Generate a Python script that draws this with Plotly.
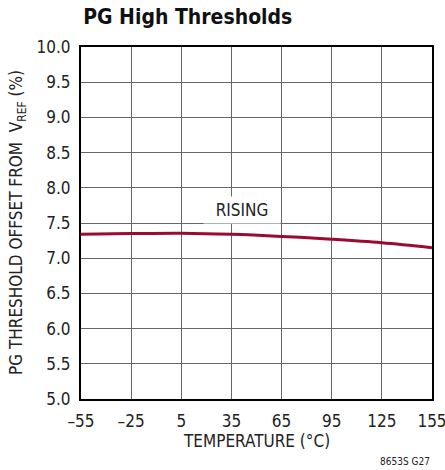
import plotly.graph_objects as go

temps = [-55, -25, 5, 35, 65, 95, 125, 155]
rising = [7.34, 7.35, 7.355, 7.34, 7.31, 7.27, 7.22, 7.15]
x_ticks = [-55, -25, 5, 35, 65, 95, 125, 155]
y_ticks = [5.0, 5.5, 6.0, 6.5, 7.0, 7.5, 8.0, 8.5, 9.0, 9.5, 10.0]

FONT = "DejaVu Sans Condensed, Liberation Sans Narrow, Arial Narrow, sans-serif"

fig = go.Figure()
fig.add_trace(go.Scatter(x=temps, y=rising, mode="lines",
                         line=dict(color="#9a0a32", width=3, shape="spline"),
                         showlegend=False, hoverinfo="skip"))

fig.add_annotation(x=41.4, y=7.685, text="RISING", showarrow=False,
                   font=dict(family=FONT, size=17, color="#222"),
                   bgcolor="white", width=70, height=20, borderpad=3,
                   xref="x", yref="y")

fig.update_layout(
    width=445, height=470,
    margin=dict(l=81, r=13, t=47, b=71, autoexpand=False),
    paper_bgcolor="white", plot_bgcolor="white",
    font=dict(family=FONT, color="#222", size=16),
    title=dict(text="<b>PG High Thresholds</b>", x=0.187, xanchor="left",
               y=0.964, yanchor="middle",
               font=dict(family=FONT, size=21, color="#111")),
)
fig.update_xaxes(range=[-55, 155], tickvals=x_ticks,
                 ticktext=[str(v).replace("-", "\u2013") for v in x_ticks],
                 showgrid=True, gridcolor="#666", gridwidth=1,
                 showline=True, linecolor="black", linewidth=2, mirror=True,
                 ticks="", zeroline=False, automargin=False, ticklabelstandoff=6,
                 ticklabeloverflow="allow",
                 tickfont=dict(family=FONT, size=17))
fig.update_yaxes(range=[5, 10], tickvals=y_ticks,
                 ticktext=[f"{v:.1f}" for v in y_ticks],
                 showgrid=True, gridcolor="#666", gridwidth=1,
                 showline=True, linecolor="black", linewidth=2, mirror=True,
                 ticks="", zeroline=False, automargin=False, ticklabelstandoff=5,
                 ticklabeloverflow="allow",
                 tickfont=dict(family=FONT, size=17))

fig.add_annotation(x=0.5, y=0, xref="paper", yref="paper", yshift=-42,
                   xanchor="center", yanchor="middle", text="TEMPERATURE (°C)",
                   showarrow=False, font=dict(family=FONT, size=17, color="#222"))
fig.add_annotation(x=0, y=0.5, xref="paper", yref="paper", xshift=-64,
                   xanchor="center", yanchor="middle", textangle=-90,
                   text="PG THRESHOLD OFFSET FROM  V<sub>REF</sub> (%)",
                   showarrow=False, font=dict(family=FONT, size=17, color="#222"))
fig.add_annotation(x=1.0, y=0, xref="paper", yref="paper", yshift=-62,
                   xanchor="right", yanchor="middle", text="8653S G27",
                   showarrow=False, font=dict(family=FONT, size=10, color="#222"))

fig.write_html("out.html", config={"displayModeBar": False},
               post_script="document.body.style.margin='0';document.body.style.padding='0';")
